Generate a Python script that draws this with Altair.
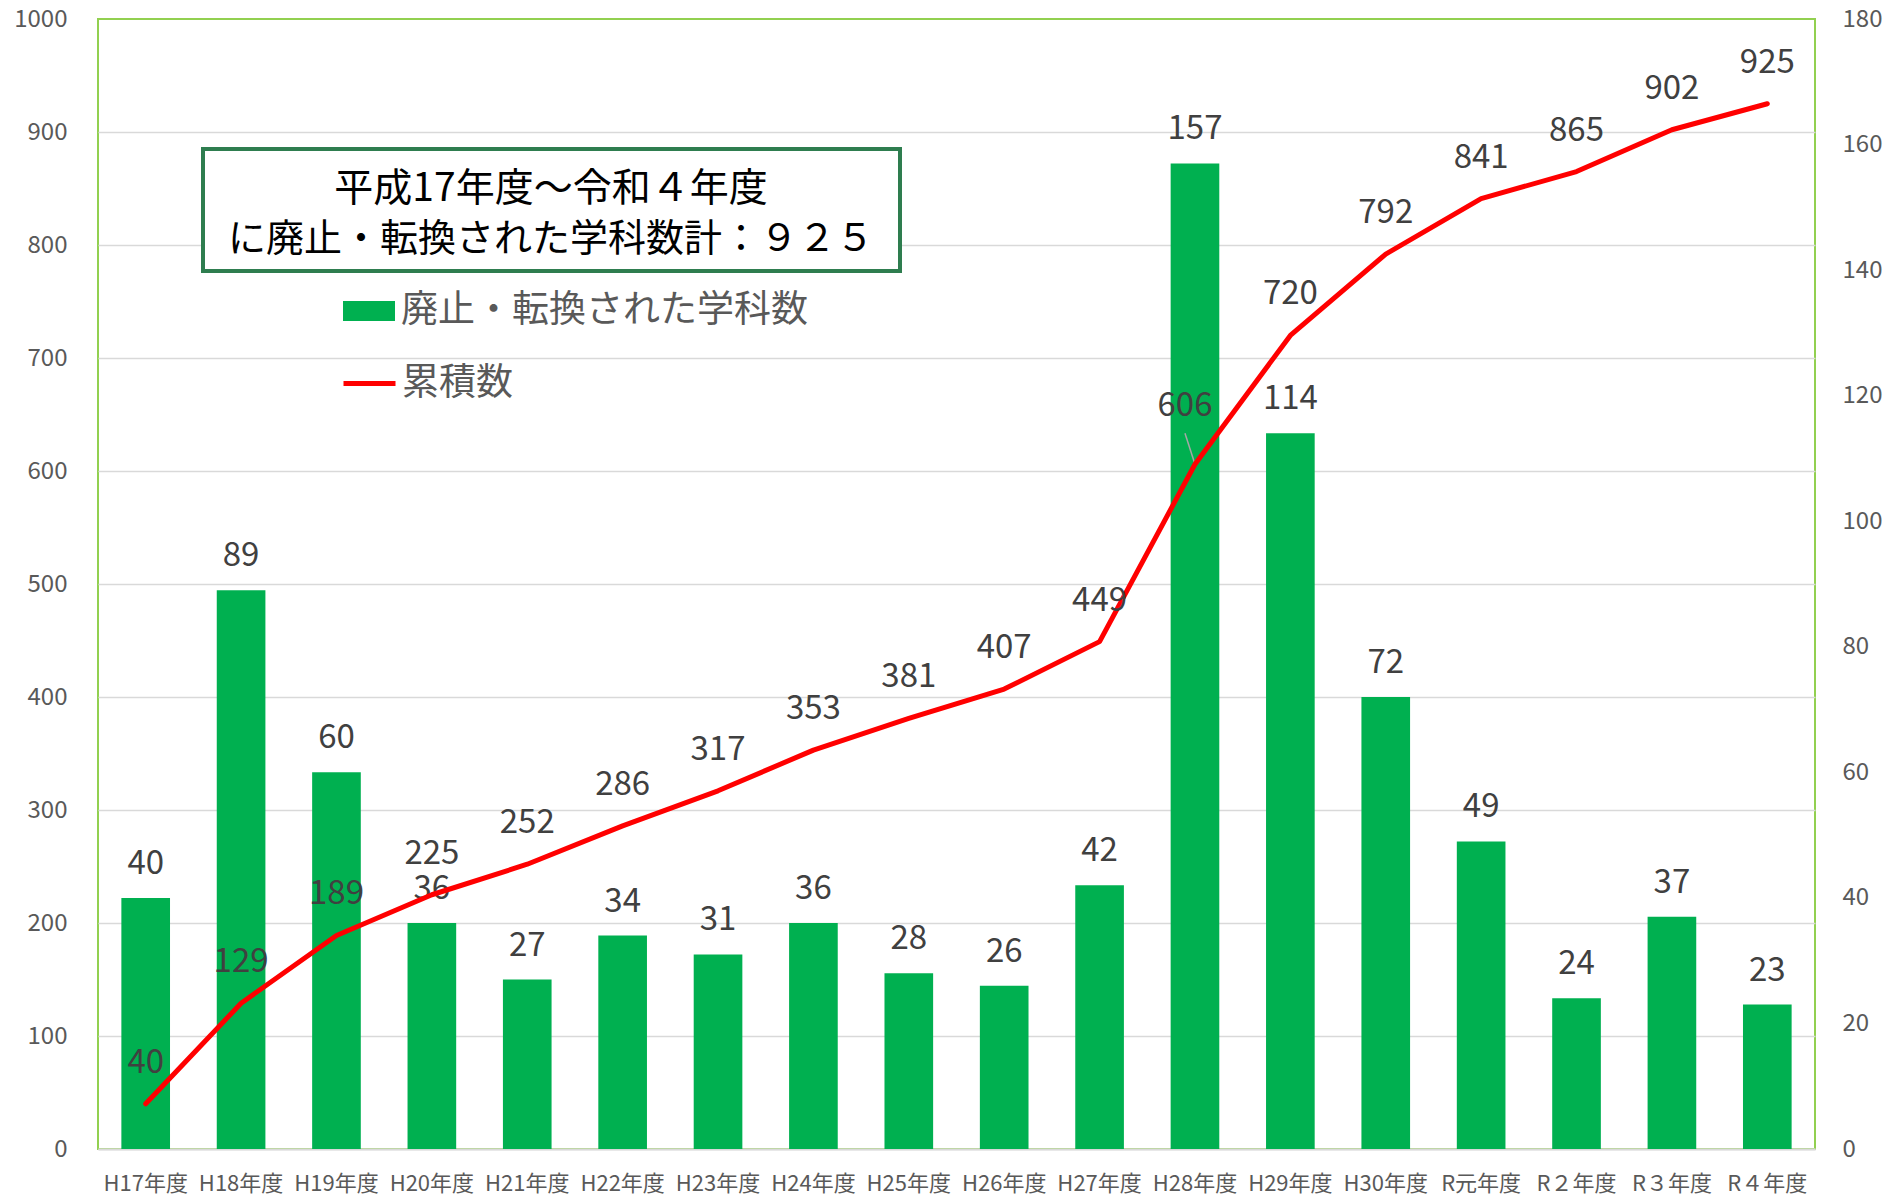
import altair as alt
import pandas as pd

categories = ["H17年度", "H18年度", "H19年度", "H20年度", "H21年度", "H22年度",
              "H23年度", "H24年度", "H25年度", "H26年度", "H27年度", "H28年度",
              "H29年度", "H30年度", "R元年度", "R２年度", "R３年度", "R４年度"]
abolished = [40, 89, 60, 36, 27, 34, 31, 36, 28, 26, 42, 157, 114, 72, 49, 24, 37, 23]
cumulative = [40, 129, 189, 225, 252, 286, 317, 353, 381, 407, 449, 606, 720, 792, 841, 865, 902, 925]
bar_series = "廃止・転換された学科数"
line_series = "累積数"
box_lines = ["平成17年度～令和４年度", "に廃止・転換された学科数計：９２５"]

FONT = "Noto Sans CJK JP"
W, H = 1717, 1130

df = pd.DataFrame({"cat": categories, "n": abolished, "cum": cumulative,
                   "s1": bar_series, "s2": line_series})

x = alt.X("cat:N", sort=categories, title=None,
          scale=alt.Scale(paddingInner=0.49, paddingOuter=0.245),
          axis=alt.Axis(labelAngle=0, labelFontSize=22, labelColor="#595959",
                        labelPadding=24, ticks=False, domainColor="#D9D9D9",
                        domainWidth=2, grid=False))

base = alt.Chart(df)

y_bar = alt.Y("n:Q", title=None, scale=alt.Scale(domain=[0, 180]),
              axis=alt.Axis(orient="right", values=list(range(0, 181, 20)), grid=False,
                            ticks=False, domain=False, labelFontSize=24, format="d",
                            labelColor="#595959", labelPadding=27))

bars = base.mark_bar().encode(
    x=x, y=y_bar,
    fill=alt.Fill("s1:N", title=None, scale=alt.Scale(range=["#00B050"]),
                  legend=alt.Legend(orient="none", legendX=245, legendY=266,
                                    symbolType="M-1,-0.385H1V0.385H-1Z",
                                    symbolSize=2704, symbolStrokeWidth=0,
                                    labelFontSize=37, labelColor="#595959",
                                    labelLimit=0,
                                    labelOffset=6, padding=0, title=None)))
bar_text = base.mark_text(fontSize=33, color="#404040", baseline="middle", dy=-34).encode(
    x=x, y=alt.Y("n:Q"), text=alt.Text("n:Q"))

y_line = alt.Y("cum:Q", title=None, scale=alt.Scale(domain=[0, 1000]),
               axis=alt.Axis(orient="left", values=list(range(0, 1001, 100)), grid=True,
                             gridColor="#D9D9D9", gridWidth=1.5, format="d",
                             gridOpacity={"condition": {"test": "datum.value >= 1000", "value": 0}, "value": 1},
                             ticks=False, domain=False, labelFontSize=24,
                             labelColor="#595959", labelPadding=31))

line = base.mark_line(strokeWidth=5, strokeCap="round", strokeJoin="round").encode(
    x=x, y=y_line,
    stroke=alt.Stroke("s2:N", title=None, scale=alt.Scale(range=["#FF0000"]),
                      legend=alt.Legend(orient="none", legendX=243, legendY=336,
                                        symbolType="stroke", symbolSize=2704,
                                        symbolStrokeWidth=5,
                                        labelFontSize=37, labelColor="#595959",
                                        labelLimit=0,
                                        labelOffset=4, padding=0, title=None)))
line_text = base.mark_text(fontSize=33, color="#404040", baseline="middle", dy=-41).encode(
    x=x, y=alt.Y("cum:Q"), text=alt.Text("cum:Q")
).transform_filter(alt.datum.cat != "H28年度")
line_text_28 = base.mark_text(fontSize=33, color="#404040", baseline="middle", dx=-10, dy=-58).encode(
    x=x, y=alt.Y("cum:Q"), text=alt.Text("cum:Q")
).transform_filter(alt.datum.cat == "H28年度")
leader = base.mark_rule(color="#A6A6A6", strokeWidth=1.5, y2Offset=-31, x2Offset=-10).encode(
    x=x, x2=alt.X2("cat:N"), y=alt.Y("cum:Q"), y2=alt.Y2("cum:Q")
).transform_filter(alt.datum.cat == "H28年度")

box_df = pd.DataFrame({"line1": [box_lines[0]], "line2": [box_lines[1]]})
box = alt.Chart(box_df).mark_rect(fill="white", stroke="#2E7D4F", strokeWidth=4).encode(
    x=alt.value(105), x2=alt.value(802), y=alt.value(130), y2=alt.value(252))
box_t1 = alt.Chart(box_df).mark_text(fontSize=39, color="#000000", baseline="middle").encode(
    x=alt.value(453), y=alt.value(170), text="line1:N")
box_t2 = alt.Chart(box_df).mark_text(fontSize=38, color="#000000", baseline="middle").encode(
    x=alt.value(453), y=alt.value(221), text="line2:N")

chart = alt.layer(
    alt.layer(bars, bar_text),
    alt.layer(leader, line, line_text, line_text_28),
    box, box_t1, box_t2,
).resolve_scale(y="independent").properties(
    width=W, height=H,
    padding={"left": 90, "top": 11, "right": 70, "bottom": 46},
    autosize=alt.AutoSizeParams(type="none"),
).configure_view(stroke="#92D050", strokeWidth=2).configure_axis(
    labelFont=FONT).configure_legend(labelFont=FONT).configure_text(font=FONT)

chart.save("out.html", embed_options={"renderer": "svg", "actions": False})
